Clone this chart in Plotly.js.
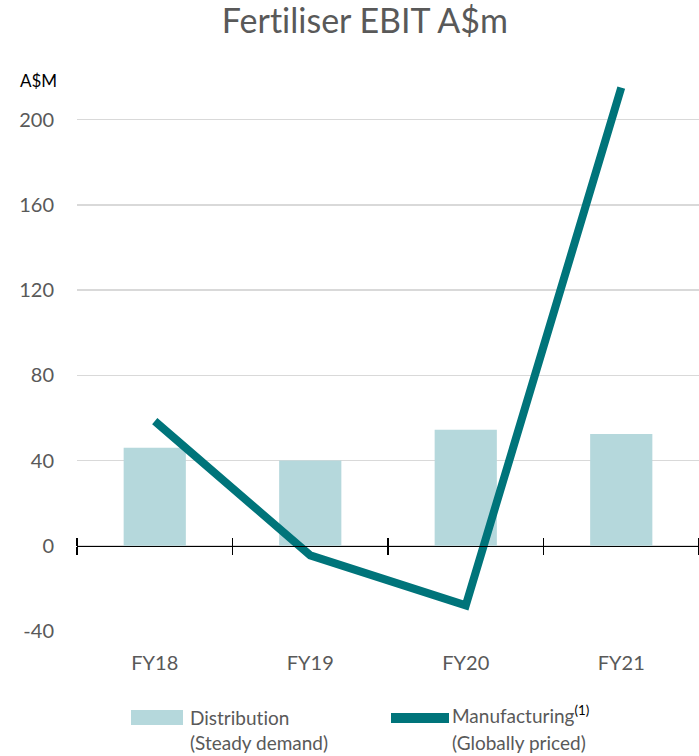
<!DOCTYPE html>
<html>
<head>
<meta charset="utf-8">
<script src="https://cdn.plot.ly/plotly-3.0.1.min.js"></script>
<style>html,body{margin:0;padding:0;background:#fff;}#chart{width:699px;height:756px;} text{font-variant-ligatures:none;font-feature-settings:"liga" 0;}</style>
</head>
<body>
<div id="chart"></div>
<script>
const categories = ["FY18", "FY19", "FY20", "FY21"];
const distribution = [46, 40, 54.5, 52.5];
const manufacturing = [58.5, -4.5, -28, 215];
const yTicks = [-40, 0, 40, 80, 120, 160, 200];
const yTickLabels = ["-40", "0", "40", "80", "120", "160", "200"];
const titleText = "Fertiliser EBIT A$m";
const unitLabel = "A$M";
const distLines = ["Distribution", "(Steady demand)"];
const manuLines = ["Manufacturing<sup><span style=\"color:#000\">(1)</span></sup>", "(Globally priced)"];

const BAR_COLOR = "#B5D8DC";
const LINE_COLOR = "#00747A";
const TEXT_COLOR = "#595959";
const FONT = "Lato, 'Open Sans', sans-serif";

const yMin = -40, yMax = 228;
const zeroPos = (0 - yMin) / (yMax - yMin);

// layout geometry (pixels) used to place the hand-made legend
const M = {l: 77, r: 0, t: 60, b: 125};
const W = 699, H = 756;
const plotW = W - M.l - M.r, plotH = H - M.t - M.b;
const px = (x) => (x - M.l) / plotW;
const py = (y) => (H - M.b - y) / plotH;

const traces = [
  {
    type: "bar", x: categories, y: distribution, name: distLines.join(" "),
    marker: {color: BAR_COLOR}, width: 0.4, hoverinfo: "skip"
  },
  // invisible copies so the category-boundary tick axes at y=0 exist
  {
    type: "bar", x: categories, y: distribution, xaxis: "x2",
    marker: {color: "rgba(0,0,0,0)"}, width: 0.4, hoverinfo: "skip"
  },
  {
    type: "bar", x: categories, y: distribution, xaxis: "x3",
    marker: {color: "rgba(0,0,0,0)"}, width: 0.4, hoverinfo: "skip"
  },
  {
    type: "scatter", mode: "lines", x: categories, y: manufacturing, name: "Manufacturing",
    line: {color: LINE_COLOR, width: 8}, cliponaxis: false, hoverinfo: "skip"
  }
];

const boundaryAxis = (side) => ({
  overlaying: "x", anchor: "free", position: zeroPos, side: side,
  type: "category", categoryarray: categories, tickson: "boundaries",
  showline: side === "bottom", linecolor: "#000", linewidth: 1.5,
  ticks: "outside", ticklen: 8, tickwidth: 1.5, tickcolor: "#000",
  showticklabels: false, showgrid: false, zeroline: false, fixedrange: true
});

const legendText = (text, x, y, color) => ({
  text: text, xref: "paper", yref: "paper", x: px(x), y: py(y),
  xanchor: "left", yanchor: "middle", showarrow: false, align: "left",
  font: {size: 19, color: color || TEXT_COLOR, family: FONT}
});

const layout = {
  width: W, height: H,
  margin: M,
  paper_bgcolor: "#fff", plot_bgcolor: "#fff",
  font: {family: FONT, color: TEXT_COLOR},
  title: {text: titleText, font: {size: 34, color: TEXT_COLOR, family: FONT},
          xref: "container", x: 0.522, xanchor: "center", yref: "container", y: 0.972, yanchor: "middle"},
  showlegend: false,
  barmode: "overlay",
  xaxis: {type: "category", categoryarray: categories, range: [-0.5, 3.5],
          showgrid: false, showline: false, zeroline: false, ticks: "",
          tickfont: {size: 20, color: TEXT_COLOR, family: FONT}, ticklabelstandoff: 18, fixedrange: true},
  xaxis2: boundaryAxis("bottom"),
  xaxis3: boundaryAxis("top"),
  yaxis: {range: [yMin, yMax], tickmode: "array", tickvals: yTicks, ticktext: yTickLabels,
          showgrid: true, gridcolor: "#D9D9D9", gridwidth: 1.5, zeroline: false, showline: false,
          ticks: "", tickfont: {size: 20, color: TEXT_COLOR, family: FONT}, ticklabelstandoff: 22, fixedrange: true},
  shapes: [
    {type: "rect", xref: "paper", yref: "paper", x0: px(131), x1: px(183), y0: py(710), y1: py(725),
     fillcolor: BAR_COLOR, line: {width: 0}},
    {type: "line", xref: "paper", yref: "paper", x0: px(391), x1: px(449), y0: py(718), y1: py(718),
     line: {color: LINE_COLOR, width: 10}}
  ],
  annotations: [
    {text: unitLabel, xref: "paper", yref: "paper", x: px(38), y: py(80),
     xanchor: "center", yanchor: "middle", showarrow: false, font: {size: 17, color: "#000", family: FONT}},
    legendText(distLines[0], 188, 717),
    legendText(distLines[1], 188, 742),
    legendText(manuLines[0], 450, 714),
    legendText(manuLines[1], 450, 742)
  ]
};

Plotly.newPlot("chart", traces, layout, {displayModeBar: false, staticPlot: true});
</script>
</body>
</html>
